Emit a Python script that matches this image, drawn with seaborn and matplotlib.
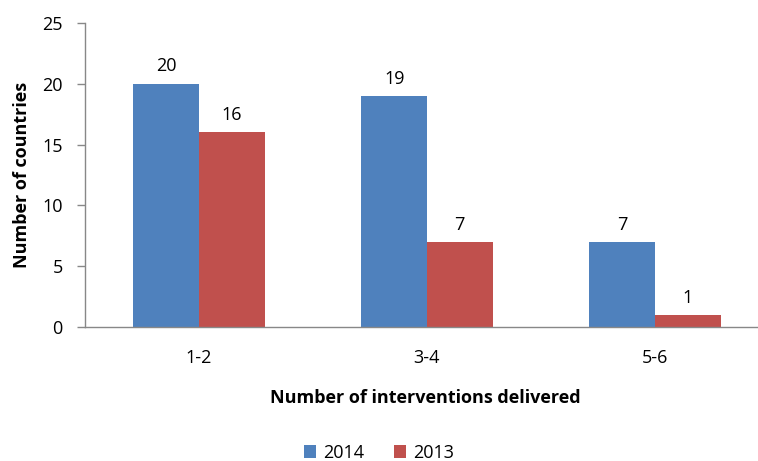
import seaborn as sns
import matplotlib.pyplot as plt
import pandas as pd

categories = ["1-2", "3-4", "5-6"]
values_2014 = [20, 19, 7]
values_2013 = [16, 7, 1]
years = ["2014", "2013"]

df = pd.DataFrame({
    "group": categories * 2,
    "count": values_2014 + values_2013,
    "year": [years[0]] * 3 + [years[1]] * 3,
})

sns.set_style("white")
plt.rcParams["font.family"] = ["Open Sans", "DejaVu Sans"]
plt.rcParams["text.color"] = "black"
plt.rcParams["xtick.labelcolor"] = "black"
plt.rcParams["ytick.labelcolor"] = "black"
plt.rcParams["axes.labelcolor"] = "black"

fig = plt.figure(figsize=(7.58, 4.61), dpi=100)
ax = fig.add_axes([85 / 758, 134 / 461, 684 / 758, 304 / 461])

sns.barplot(data=df, x="group", y="count", hue="year", order=categories,
            hue_order=years, palette=["#4F81BD", "#C0504D"],
            width=0.575, gap=0, saturation=1, linewidth=0, ax=ax)

for cont in ax.containers:
    ax.bar_label(cont, padding=6, fontsize=13)

ax.set_ylim(0, 25)
ax.set_yticks(range(0, 26, 5))
ax.set_xlim(-0.5, 2.5)
ax.set_xticks([0, 1, 2])
ax.set_xticks([-0.5, 0.5, 1.5, 2.5], minor=True)
ax.tick_params(axis="x", which="major", length=0, pad=16, labelsize=13)
ax.tick_params(axis="x", which="minor", length=6, color="#888888", width=1)
ax.tick_params(axis="y", length=6, color="#888888", width=1, labelsize=13, pad=10, left=True)

for s in ["top", "right"]:
    ax.spines[s].set_visible(False)
for s in ["left", "bottom"]:
    ax.spines[s].set_color("#888888")
    ax.spines[s].set_linewidth(1)

ax.set_xlabel("Number of interventions delivered", fontsize=13, fontweight="bold")
ax.set_ylabel("Number of countries", fontsize=13, fontweight="bold")
ax.xaxis.set_label_coords(340 / 684, -62 / 304)
ax.yaxis.set_label_coords(-54 / 684, 0.5)

ax.legend(loc="center", bbox_to_anchor=(0.5, 0.018), bbox_transform=fig.transFigure,
          ncol=2, frameon=False, fontsize=13, handlelength=0.7, handleheight=0.7,
          handletextpad=0.4, columnspacing=1.6)

fig.savefig("out.png", dpi=100)
